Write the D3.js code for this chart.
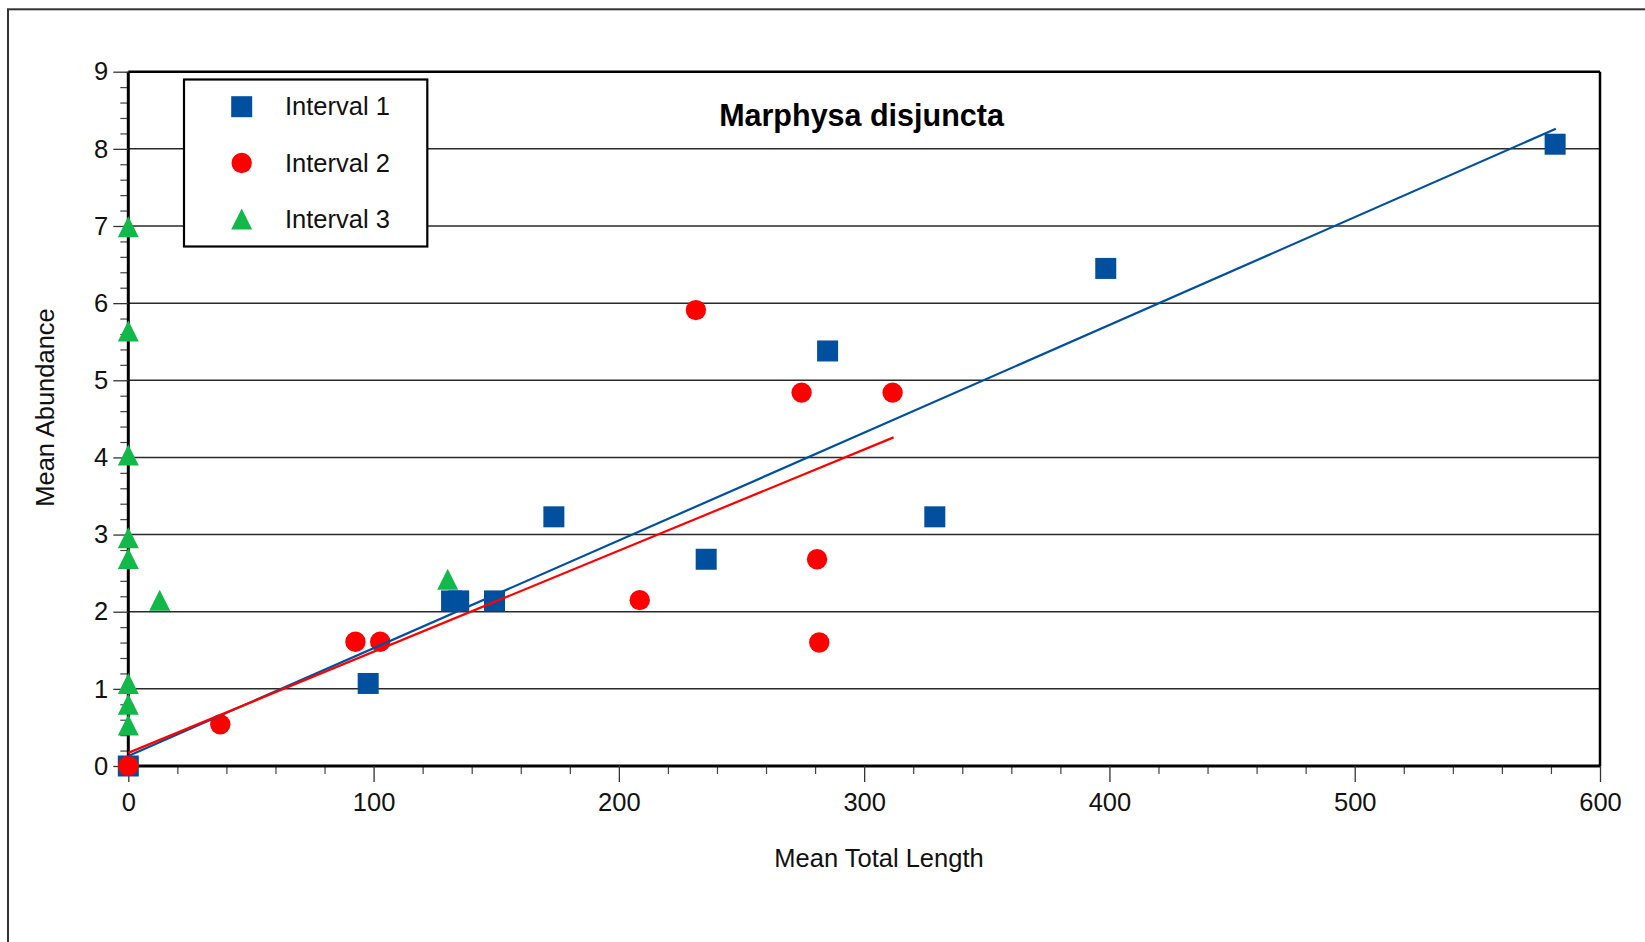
<!DOCTYPE html>
<html>
<head>
<meta charset="utf-8">
<script src="https://cdn.jsdelivr.net/npm/d3@7"></script>
<style>
  html, body { margin: 0; padding: 0; background: #ffffff; }
  svg { display: block; font-family: "Liberation Sans", Arial, sans-serif; }
</style>
</head>
<body>
<svg id="chart" width="1645" height="942"></svg>
<script>
// ---------------- data ----------------
const chartTitle = "Marphysa disjuncta";
const xAxisTitle = "Mean Total Length";
const yAxisTitle = "Mean Abundance";
const seriesNames = ["Interval 1", "Interval 2", "Interval 3"];

const xTicks = [0, 100, 200, 300, 400, 500, 600];
const yTicks = [0, 1, 2, 3, 4, 5, 6, 7, 8, 9];

const interval1X = [0, 97.8, 131.8, 134.7, 149.3, 173.5, 235.6, 285.1, 328.8, 398.5, 581.7];
const interval1Y = [0, 1.07, 2.14, 2.14, 2.14, 3.23, 2.68, 5.38, 3.23, 6.45, 8.06];

const interval2X = [0, 37.5, 92.6, 102.7, 208.5, 231.4, 274.5, 280.8, 281.7, 311.6];
const interval2Y = [0, 0.54, 1.61, 1.61, 2.15, 5.91, 4.84, 2.68, 1.60, 4.84];

const interval3X = [0, 0, 0, 0, 0, 0, 0, 0, 12.8, 130.2];
const interval3Y = [6.99, 5.64, 4.03, 2.96, 2.69, 1.07, 0.80, 0.53, 2.15, 2.42];

// fitted trend lines (end points)
const fit1X = [0, 582];
const fit1Y = [0.13, 8.26];
const fit2X = [0, 312];
const fit2Y = [0.17, 4.26];

// ---------------- styles ----------------
const blue = "#00509f";
const red = "#ff0000";
const green = "#12b94a";
const markerSize = 21;
const fontSize = 25.5;

// ---------------- layout ----------------
const svg = d3.select("#chart");
const x = d3.scaleLinear().domain([0, 600]).range([128.3, 1600]);
const y = d3.scaleLinear().domain([0, 9]).range([766, 71.7]);

// outer frame
svg.append("rect")
  .attr("x", 8).attr("y", 9.3)
  .attr("width", 1700).attr("height", 1000)
  .attr("fill", "none").attr("stroke", "#333").attr("stroke-width", 2);

// gridlines
svg.append("g").selectAll("line")
  .data(yTicks.filter(v => v > 0 && v < 9))
  .join("line")
  .attr("x1", x(0)).attr("x2", x(600))
  .attr("y1", d => y(d)).attr("y2", d => y(d))
  .attr("stroke", "#2a2a2a").attr("stroke-width", 1.5);

// plot frame top & right
svg.append("line").attr("x1", x(0)).attr("x2", x(600)).attr("y1", y(9)).attr("y2", y(9))
  .attr("stroke", "#000").attr("stroke-width", 2.5);
svg.append("line").attr("x1", x(600)).attr("x2", x(600)).attr("y1", y(9)).attr("y2", y(0))
  .attr("stroke", "#000").attr("stroke-width", 2.5);

// minor ticks
const xMinor = d3.range(0, 601, 20).filter(v => v % 100 !== 0);
const yMinor = d3.range(0, 9.01, 0.2).filter(v => Math.abs(v - Math.round(v)) > 1e-6);

const gxMinor = svg.append("g").attr("transform", `translate(0,${y(0)})`)
  .call(d3.axisBottom(x).tickValues(xMinor).tickSize(8).tickFormat(""));
gxMinor.select(".domain").remove();
gxMinor.selectAll("line").attr("stroke", "#444").attr("stroke-width", 1.2);

const gyMinor = svg.append("g").attr("transform", `translate(${x(0)},0)`)
  .call(d3.axisLeft(y).tickValues(yMinor).tickSize(8).tickFormat(""));
gyMinor.select(".domain").remove();
gyMinor.selectAll("line").attr("stroke", "#444").attr("stroke-width", 1.2);

// major axes
const gx = svg.append("g").attr("transform", `translate(0,${y(0)})`)
  .call(d3.axisBottom(x).tickValues(xTicks).tickSize(16).tickPadding(11).tickFormat(d3.format("d")));
gx.select(".domain").attr("stroke", "#000").attr("stroke-width", 3)
  .attr("d", `M${x(0)},0H${x(600)}`);
gx.selectAll(".tick line").attr("stroke", "#333").attr("stroke-width", 1.3);
gx.selectAll("text").attr("font-size", fontSize).attr("fill", "#111")
  .attr("font-family", "'Liberation Sans', Arial, sans-serif");

const gy = svg.append("g").attr("transform", `translate(${x(0)},0)`)
  .call(d3.axisLeft(y).tickValues(yTicks).tickSize(15).tickPadding(5).tickFormat(d3.format("d")));
gy.select(".domain").attr("stroke", "#000").attr("stroke-width", 3)
  .attr("d", `M0,${y(0)}V${y(9)}`);
gy.selectAll(".tick line").attr("stroke", "#333").attr("stroke-width", 1.3);
gy.selectAll("text").attr("font-size", fontSize).attr("fill", "#111")
  .attr("font-family", "'Liberation Sans', Arial, sans-serif");

// marker helpers
function drawSquare(g, cx, cy, color) {
  g.append("rect").attr("x", cx - markerSize / 2).attr("y", cy - markerSize / 2)
    .attr("width", markerSize).attr("height", markerSize).attr("fill", color);
}
function drawCircle(g, cx, cy, color) {
  g.append("circle").attr("cx", cx).attr("cy", cy).attr("r", markerSize / 2 - 0.3).attr("fill", color);
}
function drawTriangle(g, cx, cy, color) {
  const h = markerSize, w = markerSize;
  g.append("path")
    .attr("d", `M${cx},${cy - h / 2}L${cx + w / 2},${cy + h / 2}L${cx - w / 2},${cy + h / 2}Z`)
    .attr("fill", color);
}

const marks = svg.append("g");
const s1 = marks.append("g");
interval1X.forEach((v, i) => drawSquare(s1, x(v), y(interval1Y[i]), blue));
const s2 = marks.append("g");
interval2X.forEach((v, i) => drawCircle(s2, x(v), y(interval2Y[i]), red));
const s3 = marks.append("g");
interval3X.forEach((v, i) => drawTriangle(s3, x(v), y(interval3Y[i]), green));

// trend lines
const line = d3.line().x(d => x(d[0])).y(d => y(d[1]));
svg.append("path").datum(fit1X.map((v, i) => [v, fit1Y[i]]))
  .attr("d", line).attr("fill", "none").attr("stroke", blue).attr("stroke-width", 2.2);
svg.append("path").datum(fit2X.map((v, i) => [v, fit2Y[i]]))
  .attr("d", line).attr("fill", "none").attr("stroke", red).attr("stroke-width", 2.2);

// title
svg.append("text").attr("x", 861.5).attr("y", 125.5)
  .attr("text-anchor", "middle").attr("font-size", 30.5).attr("font-weight", "bold")
  .attr("fill", "#000").text(chartTitle);

// axis titles
svg.append("text").attr("x", 879).attr("y", 866.5)
  .attr("text-anchor", "middle").attr("font-size", fontSize).attr("fill", "#111").text(xAxisTitle);
svg.append("text").attr("transform", "translate(54,407.5) rotate(-90)")
  .attr("text-anchor", "middle").attr("font-size", fontSize).attr("fill", "#111").text(yAxisTitle);

// legend
const legend = svg.append("g");
legend.append("rect").attr("x", 184).attr("y", 79.5).attr("width", 243.3).attr("height", 167)
  .attr("fill", "#fff").attr("stroke", "#000").attr("stroke-width", 2.2);
const legendRows = [106.7, 163, 219];
const legendDraw = [drawSquare, drawCircle, drawTriangle];
const legendColors = [blue, red, green];
seriesNames.forEach((name, i) => {
  legendDraw[i](legend, 241.7, legendRows[i], legendColors[i]);
  legend.append("text").attr("x", 285).attr("y", legendRows[i]).attr("dy", "0.34em")
    .attr("font-size", fontSize).attr("fill", "#111").text(name);
});
</script>
</body>
</html>
